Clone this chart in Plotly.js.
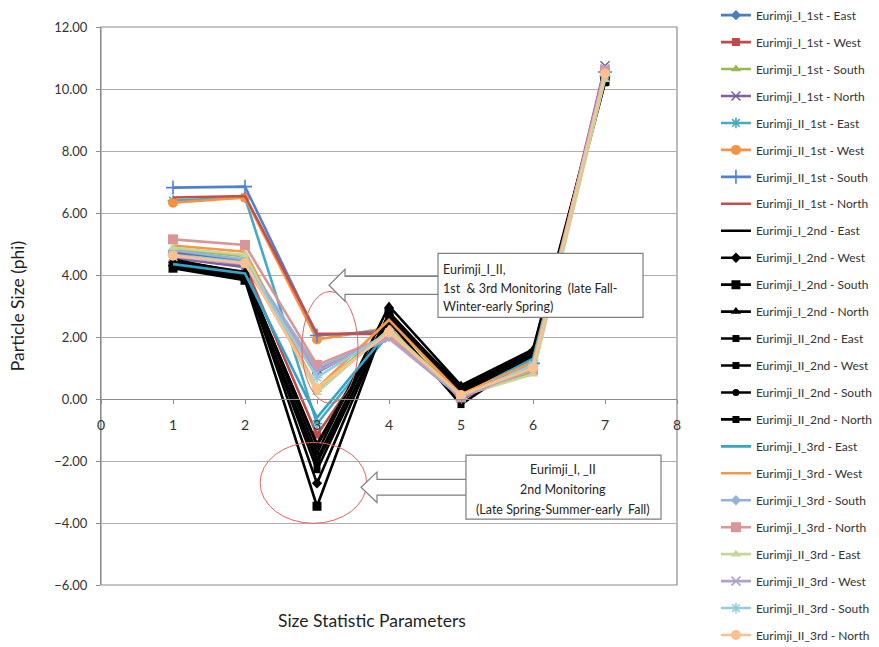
<!DOCTYPE html>
<html>
<head>
<meta charset="utf-8">
<script src="https://cdn.plot.ly/plotly-3.0.1.min.js"></script>
<style>
  html, body { margin: 0; padding: 0; background: #ffffff; }
  #chart { width: 879px; height: 647px; }
</style>
</head>
<body>
<div id="chart"></div>
<script>
// Size statistic parameter index (x axis)
const sizeParams = [1, 2, 3, 4, 5, 6, 7];
const xTicks = [0, 1, 2, 3, 4, 5, 6, 7, 8];

// Particle size (phi) per station and monitoring campaign
// 1st monitoring
const eI_1st_East   = [4.75, 4.45, 0.85, 2.10, 0.10, 1.10, 10.50];
const eI_1st_West   = [4.70, 4.30, -1.15, 2.20, 0.05, 1.00, 10.45];
const eI_1st_South  = [4.85, 4.60, 0.30, 2.30, 0.15, 0.85, 10.35];
const eI_1st_North  = [4.55, 4.25, 0.95, 2.00, 0.05, 1.05, 10.75];
const eII_1st_East  = [6.40, 6.50, -0.80, 2.10, 0.10, 1.25, 10.40];
const eII_1st_West  = [6.33, 6.50, 1.92, 2.30, 0.00, 1.10, 10.50];
const eII_1st_South = [6.82, 6.85, 2.05, 2.20, 0.05, 1.15, 10.55];
const eII_1st_North = [6.50, 6.55, 2.10, 2.10, 0.00, 1.00, 10.50];
// 2nd monitoring
const eI_2nd_East   = [4.40, 4.00, -1.45, 2.60, 0.35, 1.55, 10.30];
const eI_2nd_West   = [4.30, 3.95, -2.72, 2.70, 0.40, 1.50, 10.35];
const eI_2nd_South  = [4.22, 3.83, -3.46, 2.80, 0.30, 1.45, 10.25];
const eI_2nd_North  = [4.45, 4.10, -1.75, 3.00, 0.44, 1.60, 10.40];
const eII_2nd_East  = [4.35, 3.90, -2.05, 2.50, -0.18, 1.40, 10.20];
const eII_2nd_West  = [4.30, 3.92, -2.28, 2.65, 0.20, 1.35, 10.30];
const eII_2nd_South = [4.50, 4.05, -1.50, 2.55, 0.30, 1.50, 10.35];
const eII_2nd_North = [4.28, 3.88, -1.95, 2.75, 0.25, 1.45, 10.25];
// 3rd monitoring
const eI_3rd_East   = [4.35, 4.05, -0.60, 2.20, 0.10, 1.30, 10.40];
const eI_3rd_West   = [4.95, 4.75, 0.35, 2.55, 0.15, 1.20, 10.55];
const eI_3rd_South  = [4.80, 4.50, 1.00, 2.00, 0.10, 1.05, 10.50];
const eI_3rd_North  = [5.15, 4.97, 1.10, 2.05, 0.05, 0.95, 10.60];
const eII_3rd_East  = [4.88, 4.65, 0.20, 2.25, 0.10, 0.80, 10.30];
const eII_3rd_West  = [4.60, 4.35, 0.90, 1.95, 0.05, 1.00, 10.65];
const eII_3rd_South = [4.65, 4.40, 0.70, 2.15, 0.10, 1.10, 10.45];
const eII_3rd_North = [4.62, 4.38, 0.35, 2.15, 0.13, 1.00, 10.50];

const seriesNames = [
  'Eurimji_I_1st - East', 'Eurimji_I_1st - West', 'Eurimji_I_1st - South', 'Eurimji_I_1st - North',
  'Eurimji_II_1st - East', 'Eurimji_II_1st - West', 'Eurimji_II_1st - South', 'Eurimji_II_1st - North',
  'Eurimji_I_2nd - East', 'Eurimji_I_2nd - West', 'Eurimji_I_2nd - South', 'Eurimji_I_2nd - North',
  'Eurimji_II_2nd - East', 'Eurimji_II_2nd - West', 'Eurimji_II_2nd - South', 'Eurimji_II_2nd - North',
  'Eurimji_I_3rd - East', 'Eurimji_I_3rd - West', 'Eurimji_I_3rd - South', 'Eurimji_I_3rd - North',
  'Eurimji_II_3rd - East', 'Eurimji_II_3rd - West', 'Eurimji_II_3rd - South', 'Eurimji_II_3rd - North'
];
const seriesValues = [
  eI_1st_East, eI_1st_West, eI_1st_South, eI_1st_North,
  eII_1st_East, eII_1st_West, eII_1st_South, eII_1st_North,
  eI_2nd_East, eI_2nd_West, eI_2nd_South, eI_2nd_North,
  eII_2nd_East, eII_2nd_West, eII_2nd_South, eII_2nd_North,
  eI_3rd_East, eI_3rd_West, eI_3rd_South, eI_3rd_North,
  eII_3rd_East, eII_3rd_West, eII_3rd_South, eII_3rd_North
];

// Line colour and marker symbol for each series (null = line only)
const seriesStyle = [
  ['#4A7EBB', 'diamond', 8], ['#BE4B48', 'square', 8], ['#98B954', 'triangle-up', 9], ['#7D60A0', 'x-thin-open', 9],
  ['#46AAC5', 'asterisk-open', 9], ['#F69240', 'circle', 10], ['#4F81D0', 'cross-thin-open', 10], ['#C0504D', null, 0],
  ['#000000', null, 0], ['#000000', 'diamond', 8], ['#000000', 'square', 9], ['#000000', 'triangle-up', 9],
  ['#000000', 'square', 7], ['#000000', 'square', 7], ['#000000', 'circle', 7], ['#000000', 'square', 7],
  ['#31A5C9', null, 0], ['#F79646', null, 0], ['#95B3D7', 'diamond', 8], ['#D99694', 'square', 10],
  ['#C3D69B', 'triangle-up', 9], ['#B3A2C7', 'x-thin-open', 9], ['#93CDDD', 'asterisk-open', 9], ['#FAC090', 'circle', 10]
];

const FONT = 'Lato, "Open Sans", sans-serif';

const traces = seriesValues.map((vals, i) => {
  const [col, sym, sz] = seriesStyle[i];
  const t = {
    type: 'scatter',
    x: sizeParams,
    y: vals,
    name: seriesNames[i],
    legendgroup: 'g' + i,
    line: { color: col, width: 2.6 },
    mode: sym ? 'lines+markers' : 'lines'
  };
  if (sym) {
    t.marker = { symbol: sym, size: sz, color: col, line: { color: col, width: sym.indexOf('open') >= 0 ? 1.6 : 0 } };
  }
  return t;
});

// Callout helpers (data coordinates)
function blockArrow(tipX, tipY, baseX, endX, headHalf, shaftHalf) {
  return 'M ' + endX + ' ' + (tipY + shaftHalf) +
         ' L ' + baseX + ' ' + (tipY + shaftHalf) +
         ' L ' + baseX + ' ' + (tipY + headHalf) +
         ' L ' + tipX + ' ' + tipY +
         ' L ' + baseX + ' ' + (tipY - headHalf) +
         ' L ' + baseX + ' ' + (tipY - shaftHalf) +
         ' L ' + endX + ' ' + (tipY - shaftHalf) + ' Z';
}

const calloutLine = { color: '#7F7F7F', width: 1.2 };
const shapes = [
  // plot frame
  { type: 'rect', xref: 'paper', yref: 'paper', x0: 0, x1: 1, y0: 0, y1: 1,
    line: { color: '#8C8C8C', width: 1.2 }, layer: 'between' },
  // circled groups at parameter 3
  { type: 'circle', xref: 'x', yref: 'y', x0: 2.79, x1: 3.57, y0: -0.14, y1: 3.47,
    line: { color: '#E8625E', width: 1 }, layer: 'above' },
  { type: 'circle', xref: 'x', yref: 'y', x0: 2.21, x1: 3.69, y0: -4.01, y1: -1.40,
    line: { color: '#E8625E', width: 1 }, layer: 'above' },
  // arrows
  { type: 'path', xref: 'x', yref: 'y', path: blockArrow(3.167, 3.668, 3.389, 4.70, 0.516, 0.29),
    line: calloutLine, fillcolor: '#FFFFFF', layer: 'above' },
  { type: 'path', xref: 'x', yref: 'y', path: blockArrow(3.611, -2.848, 3.833, 5.09, 0.49, 0.255),
    line: calloutLine, fillcolor: '#FFFFFF', layer: 'above' },
  // text boxes
  { type: 'rect', xref: 'x', yref: 'y', x0: 4.681, x1: 7.528, y0: 2.635, y1: 4.70,
    line: calloutLine, fillcolor: '#FFFFFF', layer: 'above' },
  { type: 'rect', xref: 'x', yref: 'y', x0: 5.069, x1: 7.778, y0: -3.874, y1: -1.81,
    line: calloutLine, fillcolor: '#FFFFFF', layer: 'above' }
];

const noteFont = { family: FONT, size: 12.5, color: '#262626' };
const annotations = [
  { xref: 'x', yref: 'y', x: 4.72, y: 4.18, xanchor: 'left', yanchor: 'middle', showarrow: false,
    text: 'Eurimji_I_II,', font: noteFont },
  { xref: 'x', yref: 'y', x: 4.72, y: 3.58, xanchor: 'left', yanchor: 'middle', showarrow: false,
    text: '1st  &amp; 3rd Monitoring  (late Fall-', font: noteFont },
  { xref: 'x', yref: 'y', x: 4.72, y: 2.99, xanchor: 'left', yanchor: 'middle', showarrow: false,
    text: 'Winter-early Spring)', font: noteFont },
  { xref: 'x', yref: 'y', x: 6.42, y: -2.28, xanchor: 'center', yanchor: 'middle', showarrow: false,
    text: 'Eurimji_I, _II', font: noteFont },
  { xref: 'x', yref: 'y', x: 6.42, y: -2.92, xanchor: 'center', yanchor: 'middle', showarrow: false,
    text: '2nd Monitoring', font: noteFont },
  { xref: 'x', yref: 'y', x: 6.42, y: -3.57, xanchor: 'center', yanchor: 'middle', showarrow: false,
    text: '(Late Spring-Summer-early  Fall)', font: noteFont },
  // horizontal axis title
  { xref: 'paper', yref: 'paper', x: 0.4705, y: -0.063, xanchor: 'center', yanchor: 'middle',
    showarrow: false, text: 'Size Statistic Parameters', font: { family: FONT, size: 17.5, color: '#1F1F1F' } }
];

const layout = {
  width: 879,
  height: 647,
  paper_bgcolor: '#FFFFFF',
  plot_bgcolor: '#FFFFFF',
  margin: { l: 101, r: 202, t: 27, b: 62, autoexpand: false },
  font: { family: FONT, color: '#333333' },
  showlegend: true,
  legend: {
    xref: 'container', yref: 'container',
    x: 0.8145, y: 0.999, xanchor: 'left', yanchor: 'top',
    tracegroupgap: 7.95, traceorder: 'grouped',
    font: { family: FONT, size: 12, color: '#333333' },
    bgcolor: 'rgba(0,0,0,0)', borderwidth: 0,
    maxheight: 660
  },
  xaxis: {
    range: [0, 8],
    tickvals: xTicks,
    ticktext: xTicks.map(String),
    anchor: 'free',
    position: 1 / 3,
    showgrid: false,
    zeroline: false,
    showline: true,
    linecolor: '#8C8C8C',
    linewidth: 1,
    ticks: 'outside',
    ticklen: 4,
    tickcolor: '#8C8C8C',
    ticklabelstandoff: 9,
    tickfont: { family: FONT, size: 14, color: '#333333' },
    fixedrange: true
  },
  yaxis: {
    range: [-6, 12],
    dtick: 2,
    tick0: 0,
    tickformat: '.2f',
    showgrid: true,
    gridcolor: '#ADADAD',
    gridwidth: 1,
    zeroline: false,
    showline: true,
    linecolor: '#8C8C8C',
    linewidth: 1,
    ticks: 'outside',
    ticklen: 4,
    tickcolor: '#8C8C8C',
    ticklabelstandoff: 6,
    tickfont: { family: FONT, size: 13, color: '#333333' },
    title: { text: 'Particle Size (phi)', font: { family: FONT, size: 17.5, color: '#1F1F1F' }, standoff: 25 },
    fixedrange: true
  },
  shapes: shapes,
  annotations: annotations
};

Plotly.newPlot('chart', traces, layout, { staticPlot: true, displayModeBar: false });
</script>
</body>
</html>
